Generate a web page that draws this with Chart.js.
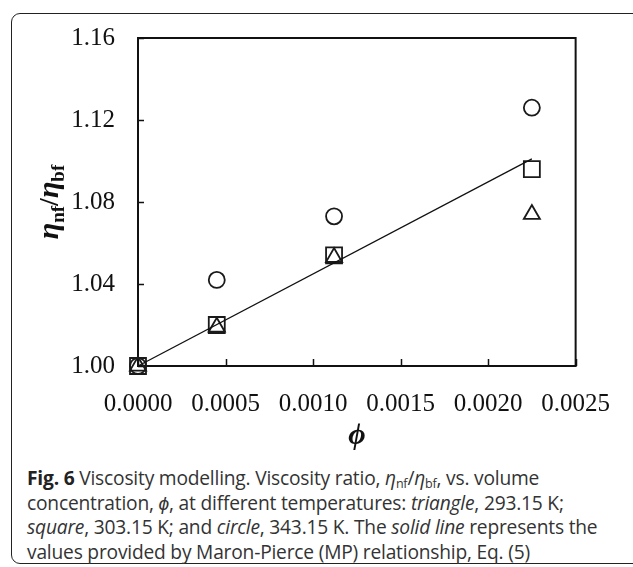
<!DOCTYPE html>
<html>
<head>
<meta charset="utf-8">
<script src="https://cdn.jsdelivr.net/npm/chart.js@4.4.0/dist/chart.umd.min.js"></script>
<style>
  html, body { margin: 0; padding: 0; background: #fff; }
  body { width: 633px; height: 567px; position: relative; overflow: hidden; }
  #frame { position: absolute; left: 11px; top: 13px; width: 640px; height: 551px;
           border: 1.5px solid #222; border-radius: 9px; box-sizing: border-box; }
  #c { position: absolute; left: 0; top: 0; }
  #cap { position: absolute; left: 27px; top: 466px; width: 600px;
         font-family: "Open Sans", sans-serif; font-size: 19.2px; line-height: 24.5px;
         color: #333; white-space: nowrap; letter-spacing: -0.2px; }
  #cap b { color: #222; }
  #cap sub { font-size: 12.5px; vertical-align: -3px; line-height: 0; }
</style>
</head>
<body>
<div id="frame"></div>
<canvas id="c" width="633" height="460"></canvas>
<div id="cap">
<div><b>Fig. 6</b> Viscosity modelling. Viscosity ratio, <i>η</i><sub>nf</sub>/<i>η</i><sub>bf</sub>, vs. volume</div>
<div>concentration, <i>ϕ</i>, at different temperatures: <i>triangle</i>, 293.15 K;</div>
<div><i>square</i>, 303.15 K; and <i>circle</i>, 343.15 K. The <i>solid line</i> represents the</div>
<div>values provided by Maron-Pierce (MP) relationship, Eq. (5)</div>
</div>
<script>
// ---- data ----
const phi = [0, 0.00045, 0.00112, 0.00225];
const triangle293 = [1.000, 1.019, 1.053, 1.074];
const square303 = [1.000, 1.020, 1.054, 1.096];
const circle343 = [1.000, 1.042, 1.073, 1.126];
const mpPhi = [0, 0.00225];
const mpRatio = [1.000, 1.101];
const xTicks = [0, 0.0005, 0.0010, 0.0015, 0.0020, 0.0025];
const yTicks = [1.00, 1.04, 1.08, 1.12, 1.16];

const pts = (xs, ys) => xs.map((x, i) => ({ x: x, y: ys[i] }));

const frameAndTicks = {
  id: 'frameAndTicks',
  beforeDatasetsDraw(chart) {
    const { ctx, chartArea: a, scales } = chart;
    ctx.save();
    ctx.strokeStyle = '#111';
    ctx.lineWidth = 2;
    ctx.strokeRect(a.left, a.top, a.right - a.left, a.bottom - a.top);
    ctx.lineWidth = 1.5;
    ctx.beginPath();
    xTicks.forEach(v => {
      const px = Math.round(scales.x.getPixelForValue(v)) + 0.5;
      ctx.moveTo(px, a.bottom); ctx.lineTo(px, a.bottom - 7);
    });
    yTicks.forEach(v => {
      const py = Math.round(scales.y.getPixelForValue(v)) + 0.5;
      ctx.moveTo(a.left, py); ctx.lineTo(a.left + 6, py);
    });
    ctx.stroke();
    ctx.restore();
  },
  afterDraw(chart) {
    const { ctx, chartArea: a } = chart;
    const parts = [
      { t: 'η', f: 'italic bold 30px "Liberation Serif"', dy: 0 },
      { t: 'nf', f: 'bold 19px "Liberation Serif"', dy: 6 },
      { t: '/', f: 'bold 28px "Liberation Serif"', dy: 0 },
      { t: 'η', f: 'italic bold 30px "Liberation Serif"', dy: 0 },
      { t: 'bf', f: 'bold 19px "Liberation Serif"', dy: 6 }
    ];
    ctx.save();
    let total = 0;
    parts.forEach(p => { ctx.font = p.f; p.w = ctx.measureText(p.t).width; total += p.w; });
    const cx = 50, cy = (a.top + a.bottom) / 2;
    ctx.translate(cx, cy);
    ctx.rotate(-Math.PI / 2);
    ctx.fillStyle = '#111';
    ctx.textBaseline = 'alphabetic';
    let x = -total / 2;
    parts.forEach(p => { ctx.font = p.f; ctx.fillText(p.t, x, 8 + p.dy); x += p.w; });
    ctx.restore();
    ctx.save();
    ctx.font = 'italic bold 30px "Liberation Serif"';
    ctx.fillStyle = '#111';
    ctx.textAlign = 'center';
    ctx.textBaseline = 'middle';
    ctx.fillText('ϕ', (a.left + a.right) / 2, 436);
    ctx.restore();
  }
};

const markerColor = '#1a1a1a';
new Chart(document.getElementById('c'), {
  type: 'scatter',
  data: {
    datasets: [
      { label: 'Maron-Pierce (MP)', data: pts(mpPhi, mpRatio), showLine: true,
        borderColor: '#111', borderWidth: 1.3, pointRadius: 0, fill: false, clip: false },
      { label: '293.15 K', data: pts(phi, triangle293), pointStyle: 'triangle', clip: false,
        pointRadius: 9.3, borderColor: markerColor, backgroundColor: 'rgba(0,0,0,0)', pointBorderWidth: 1.8 },
      { label: '303.15 K', data: pts(phi, square303), pointStyle: 'rect', clip: false,
        pointRadius: 11.3, borderColor: markerColor, backgroundColor: 'rgba(0,0,0,0)', pointBorderWidth: 1.8 },
      { label: '343.15 K', data: pts(phi, circle343), pointStyle: 'circle', clip: false,
        pointRadius: 8, borderColor: markerColor, backgroundColor: 'rgba(0,0,0,0)', pointBorderWidth: 1.8 }
    ]
  },
  options: {
    responsive: false,
    animation: false,
    devicePixelRatio: 1,
    layout: { padding: { left: 0, right: 57, top: 37, bottom: 0 } },
    plugins: { legend: { display: false }, tooltip: { enabled: false } },
    scales: {
      x: {
        type: 'linear', min: 0, max: 0.0025,
        afterBuildTicks: s => { s.ticks = xTicks.map(v => ({ value: v })); },
        afterFit: s => { s.height = 94; },
        grid: { display: false, drawTicks: false },
        border: { display: false },
        ticks: { padding: 23, color: '#111', maxRotation: 0,
                 font: { family: 'Liberation Serif', size: 25 },
                 callback: v => Number(v).toFixed(4) }
      },
      y: {
        type: 'linear', min: 1.0, max: 1.16,
        afterBuildTicks: s => { s.ticks = yTicks.map(v => ({ value: v })); },
        afterFit: s => { s.width = 138; },
        grid: { display: false, drawTicks: false },
        border: { display: false },
        ticks: { padding: 23, color: '#111',
                 font: { family: 'Liberation Serif', size: 25 },
                 callback: v => Number(v).toFixed(2) }
      }
    }
  },
  plugins: [frameAndTicks]
});
</script>
</body>
</html>
